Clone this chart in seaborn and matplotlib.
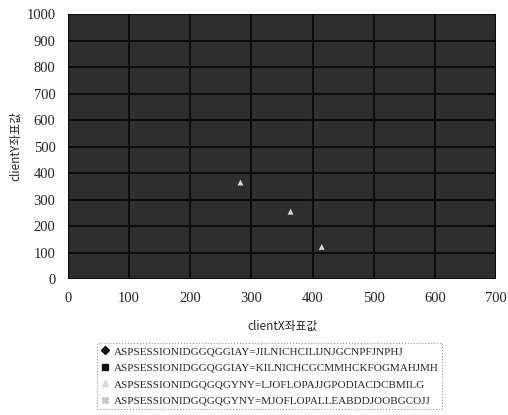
import pandas as pd
import matplotlib
matplotlib.use("Agg")
import matplotlib.pyplot as plt
from matplotlib.lines import Line2D
import seaborn as sns

# --- données ---
sessions = [
    "ASPSESSIONIDGGQGGIAY=JILNICHCILIJNJGCNPFJNPHJ",
    "ASPSESSIONIDGGQGGIAY=KILNICHCGCMMHCKFOGMAHJMH",
    "ASPSESSIONIDGQGQGYNY=LJOFLOPAJJGPODIACDCBMILG",
    "ASPSESSIONIDGQGQGYNY=MJOFLOPALLEABDDJOOBGCOJJ",
]
markers = ["D", "s", "^", "X"]
colors = ["#111111", "#111111", "#d8d8d8", "#c8c8c8"]

# seuls points lisibles (taches claires)
pt_session = [sessions[2], sessions[2], sessions[2]]
pt_x = [282, 364, 415]
pt_y = [364, 254, 121]

x_ticks = [0, 100, 200, 300, 400, 500, 600, 700]
y_ticks = [0, 100, 200, 300, 400, 500, 600, 700, 800, 900, 1000]

df = pd.DataFrame({"session": pt_session, "x": pt_x, "y": pt_y})

sns.set_style("white")
plt.rcParams["font.family"] = ["Noto Sans CJK KR", "DejaVu Sans"]

fig = plt.figure(figsize=(5.08, 4.15), dpi=100)
ax = fig.add_axes([68 / 508, 136 / 415, 428 / 508, 265 / 415])
ax.set_facecolor("#2e2e2e")

sns.scatterplot(
    data=df, x="x", y="y",
    hue="session", hue_order=sessions, palette=dict(zip(sessions, colors)),
    style="session", style_order=sessions, markers=dict(zip(sessions, markers)),
    s=18, edgecolor="none", legend=False, ax=ax, zorder=3,
)

ax.set_xlim(0, 700)
ax.set_ylim(0, 1000)
ax.set_xticks(x_ticks)
ax.set_yticks(y_ticks)
ax.grid(True, color="#0c0c0c", linewidth=1.5)
ax.set_axisbelow(True)
for sp in ax.spines.values():
    sp.set_visible(False)
ax.tick_params(length=0, pad=9)
for lab in ax.get_xticklabels() + ax.get_yticklabels():
    lab.set_family(["Liberation Serif"])
    lab.set_fontsize(10.5)

ax.set_xlabel("clientX좌표값", fontsize=8.5, labelpad=11)
ax.set_ylabel("clientY좌표값", fontsize=8.5, labelpad=3)

# légende (cadre pointillé sous le graphique)
handles = [
    Line2D([], [], linestyle="none", marker=m, color=c, markersize=4.5)
    for m, c in zip(markers, colors)
]
leg = fig.legend(
    handles, sessions, loc="upper left",
    bbox_to_anchor=(97 / 508, 1 - 343 / 415),
    prop={"family": "Liberation Serif", "size": 8},
    handlelength=0.8, handletextpad=0.4, labelspacing=0.6,
    borderpad=0.3, borderaxespad=0, fancybox=False, framealpha=1,
)
leg.get_frame().set_edgecolor("#999999")
leg.get_frame().set_linestyle(":")
leg.get_frame().set_linewidth(0.8)

fig.savefig("out.png", dpi=100)
